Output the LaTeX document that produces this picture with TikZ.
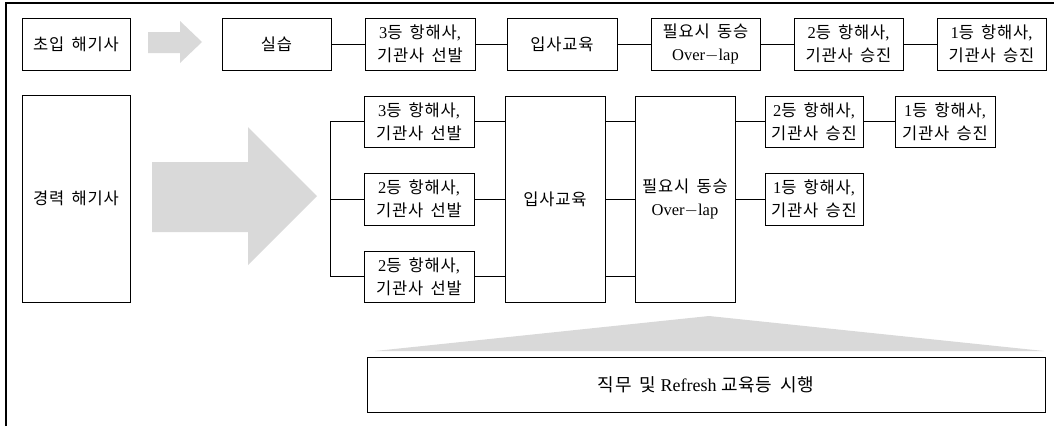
\documentclass[tikz,border=0pt]{standalone}
\usepackage{fontspec}
\setmainfont{Liberation Serif}
\newfontfamily\kr[LetterSpace=5,WordSpace=1.6]{Noto Sans CJK KR}
\definecolor{arrowgray}{RGB}{217,217,217}
\tikzset{
  box/.style={draw, line width=1pt, align=center, inner sep=0pt,
    font=\fontsize{16.5}{23}\selectfont},
  conn/.style={line width=1pt},
  bigarrow/.style={fill=arrowgray, draw=none}
}
\begin{document}
\begin{tikzpicture}[x=1pt,y=-1pt]
\useasboundingbox (0,0) rectangle (1054,426);
% outer frame
\draw[line width=1.2pt] (6,426) -- (6,3) -- (1054,3);

% Row 1
\node[box, minimum width=108, minimum height=52] (a1) at (76,44) {\kr 초입 해기사};
\fill[bigarrow] (148,32) -- (180,32) -- (180,21) -- (202,42) -- (180,63) -- (180,53) -- (148,53) -- cycle;
\node[box, minimum width=109, minimum height=52] (b1) at (276.5,44) {\kr 실습};
\node[box, minimum width=110, minimum height=52] (c1) at (420,44) {3{\kr 등 항해사}, \\ {\kr 기관사 선발}};
\node[box, minimum width=110, minimum height=52] (d1) at (562,44) {\kr 입사교육};
\node[box, minimum width=109, minimum height=52] (e1) at (705.5,44) {{\kr 필요시 동승}\\ Over$-$lap};
\node[box, minimum width=109, minimum height=52] (f1) at (848.5,44) {2{\kr 등 항해사}, \\ {\kr 기관사 승진}};
\node[box, minimum width=109, minimum height=52] (g1) at (991.5,44) {1{\kr 등 항해사}, \\ {\kr 기관사 승진}};
\draw[conn] (b1) -- (c1);
\draw[conn] (c1) -- (d1);
\draw[conn] (d1) -- (e1);
\draw[conn] (e1) -- (f1);
\draw[conn] (f1) -- (g1);

% Row 2
\node[box, minimum width=108, minimum height=207] (a2) at (76,198.5) {\kr 경력 해기사};
\fill[bigarrow] (152,162) -- (248,162) -- (248,127) -- (317,196) -- (248,265) -- (248,232) -- (152,232) -- cycle;
\node[box, minimum width=110, minimum height=51] (c2) at (419,121.5) {3{\kr 등 항해사}, \\ {\kr 기관사 선발}};
\node[box, minimum width=110, minimum height=52] (c3) at (419,199) {2{\kr 등 항해사}, \\ {\kr 기관사 선발}};
\node[box, minimum width=110, minimum height=51] (c4) at (419,276.5) {2{\kr 등 항해사}, \\ {\kr 기관사 선발}};
\coordinate (br) at (330,0);
\draw[conn] (c2.west) -- (c2.west -| br) -- (c4.west -| br) -- (c4.west);
\draw[conn] (c3.west -| br) -- (c3.west);
\node[box, minimum width=100, minimum height=206] (d2) at (555,199) {\kr 입사교육};
\node[box, minimum width=100, minimum height=206] (e2) at (685,199) {{\kr 필요시 동승}\\ Over$-$lap};
\draw[conn] (c2.east) -- (c2.east -| d2.west);
\draw[conn] (c3.east) -- (c3.east -| d2.west);
\draw[conn] (c4.east) -- (c4.east -| d2.west);
\draw[conn] (d2.east |- c2) -- (e2.west |- c2);
\draw[conn] (d2.east |- c3) -- (e2.west |- c3);
\draw[conn] (d2.east |- c4) -- (e2.west |- c4);
\node[box, minimum width=98, minimum height=51] (f2) at (814,121.5) {2{\kr 등 항해사}, \\ {\kr 기관사 승진}};
\node[box, minimum width=100, minimum height=51] (g2) at (945,121.5) {1{\kr 등 항해사}, \\ {\kr 기관사 승진}};
\node[box, minimum width=98, minimum height=52] (h2) at (814,199) {1{\kr 등 항해사}, \\ {\kr 기관사 승진}};
\draw[conn] (e2.east |- f2) -- (f2.west);
\draw[conn] (f2) -- (g2);
\draw[conn] (e2.east |- h2) -- (h2.west);

% Bottom
\fill[bigarrow] (375,351) -- (709,316) -- (1044,351) -- cycle;
\node[box, minimum width=678, minimum height=55, font=\fontsize{18}{22}\selectfont] (z) at (706,384.5) {{\kr 직무 및} Refresh {\kr 교육등 시행}};
\end{tikzpicture}
\end{document}
